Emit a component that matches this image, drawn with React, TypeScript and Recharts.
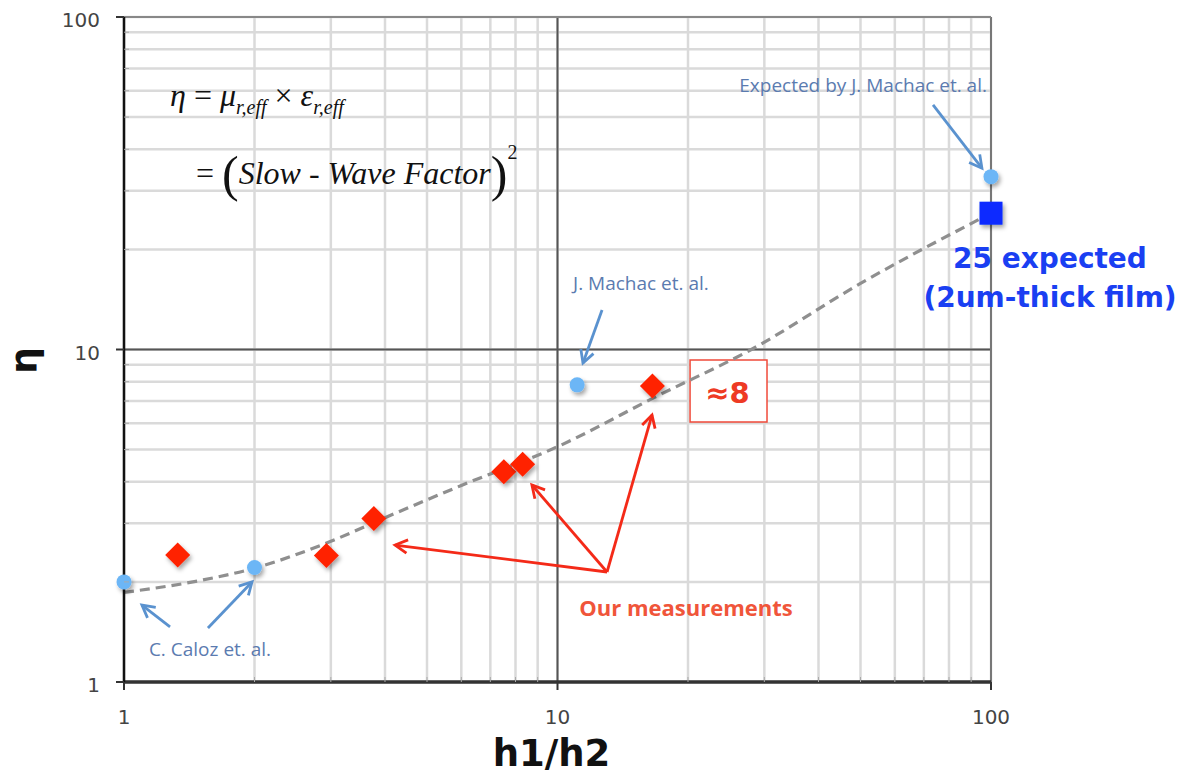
import React from "react";
import {
  CartesianGrid,
  ComposedChart,
  Line,
  ReferenceArea,
  ReferenceDot,
  ReferenceLine,
  Scatter,
  XAxis,
  YAxis,
} from "recharts";

// log ticks: every integer step per decade, only decades get labels
const TICKS = [1, 2, 3, 4, 5, 6, 7, 8, 9, 10, 20, 30, 40, 50, 60, 70, 80, 90, 100];
const MAJOR = [1, 10, 100];

// C. Caloz et. al.
const calozX = [1, 2];
const calozY = [2.0, 2.21];
// J. Machac et. al.
const machacX = [11.1];
const machacY = [7.83];
// expected by J. Machac et. al.
const expectedX = [100];
const expectedY = [33.1];
// our measurements
const oursX = [1.33, 2.93, 3.77, 7.52, 8.31, 16.56];
const oursY = [2.41, 2.4, 3.1, 4.29, 4.52, 7.77];
// 25 expected (2um-thick film)
const targetX = [100];
const targetY = [25.7];
// dashed trend
const trendX = [1, 1.5, 2, 3, 4, 6, 10, 17, 28, 50, 100];
const trendY = [1.86, 2.02, 2.2, 2.65, 3.12, 3.9, 5.1, 7.25, 10, 15.8, 25.7];

// annotation arrows in data coords: [xFrom, yFrom, xTo, yTo]
const blueArrows = [
  [73.5, 54.4, 95.3, 35.1],
  [12.67, 13.15, 11.45, 9.11],
  [1.277, 1.464, 1.1, 1.704],
  [1.562, 1.454, 1.974, 2.0],
];
const redArrows = [
  [13.01, 2.142, 4.22, 2.582],
  [13.01, 2.142, 8.73, 3.913],
  [13.01, 2.142, 16.52, 6.353],
];

const zip = (xs: number[], ys: number[]) => xs.map((x, i) => ({ x, y: ys[i] }));

const calozData = zip(calozX, calozY);
const machacData = zip(machacX, machacY);
const expectedData = zip(expectedX, expectedY);
const oursData = zip(oursX, oursY);
const targetData = zip(targetX, targetY);
const trendData = zip(trendX, trendY);

const SANS = "'Open Sans', sans-serif";
const DEJAVU = "'DejaVu Sans', Verdana, sans-serif";
const NOTE_BLUE = "#5b7bb0";
const ARROW_BLUE = "#5a92cf";
const RED = "#f42a18";

const circleShape = (p: any) => (
  <circle cx={p.cx} cy={p.cy} r={7.5} fill="#6cb6f6" filter="url(#shadow)" />
);
const diamondShape = (p: any) => {
  const s = 12.5;
  return (
    <polygon
      points={`${p.cx},${p.cy - s} ${p.cx + s},${p.cy} ${p.cx},${p.cy + s} ${p.cx - s},${p.cy}`}
      fill="#ff2200"
      filter="url(#shadow)"
    />
  );
};
const squareShape = (p: any) => (
  <rect x={p.cx - 11.5} y={p.cy - 11.5} width={23} height={23} fill="#0a2cff" filter="url(#shadow)" />
);

const arrowShape = (color: string) => (p: any) => {
  const { x1, y1, x2, y2 } = p;
  const a = Math.atan2(y2 - y1, x2 - x1);
  const L = 14;
  const w = 0.5;
  const h1 = `${x2 - L * Math.cos(a - w)},${y2 - L * Math.sin(a - w)}`;
  const h2 = `${x2 - L * Math.cos(a + w)},${y2 - L * Math.sin(a + w)}`;
  return (
    <g>
      <line x1={x1} y1={y1} x2={x2} y2={y2} stroke={color} strokeWidth={2.8} />
      <polyline
        points={`${h1} ${x2},${y2} ${h2}`}
        fill="none"
        stroke={color}
        strokeWidth={2.8}
        strokeLinejoin="miter"
      />
    </g>
  );
};

const note =
  (text: string, color: string, size: number, weight: number | string, family: string, dx = 0, dy = 0) =>
  (p: any) => (
    <text
      x={p.cx + dx}
      y={p.cy + dy}
      textAnchor="middle"
      fill={color}
      fontSize={size}
      fontWeight={weight}
      fontFamily={family}
    >
      {text}
    </text>
  );

const XTick = (p: any) => {
  const { x, y, payload } = p;
  const major = MAJOR.includes(payload.value);
  return (
    <g>
      {major ? (
        <line x1={x} x2={x} y1={y} y2={y + 8} stroke="#333" strokeWidth={2} />
      ) : (
        <line x1={x} x2={x} y1={y} y2={y - 5} stroke="#aaa" strokeWidth={1} />
      )}
      {major && (
        <text x={x} y={y + 42} textAnchor="middle" fill="#444" fontSize={20} fontFamily={DEJAVU}>
          {payload.value}
        </text>
      )}
    </g>
  );
};

const YTick = (p: any) => {
  const { x, y, payload } = p;
  const major = MAJOR.includes(payload.value);
  return (
    <g>
      {major ? (
        <line x1={x - 8} x2={x} y1={y} y2={y} stroke="#333" strokeWidth={2} />
      ) : (
        <line x1={x} x2={x + 5} y1={y} y2={y} stroke="#aaa" strokeWidth={1} />
      )}
      {major && (
        <text x={x - 24} y={y + 10} textAnchor="end" fill="#444" fontSize={20} fontFamily={DEJAVU}>
          {payload.value}
        </text>
      )}
    </g>
  );
};

export default function App() {
  return (
    <div style={{ position: "absolute", left: 0, top: 0, width: 1189, height: 776, background: "#fff" }}>
      <svg width={0} height={0} style={{ position: "absolute" }}>
        <defs>
          <filter id="shadow" x="-50%" y="-50%" width="200%" height="200%">
            <feDropShadow dx={2} dy={3} stdDeviation={2} floodColor="#000" floodOpacity={0.35} />
          </filter>
        </defs>
      </svg>
      <ComposedChart width={1189} height={776} margin={{ top: 17, right: 198, bottom: 34, left: 0 }}>
        <CartesianGrid stroke="#dadada" strokeWidth={2.5} />
        <XAxis
          dataKey="x"
          type="number"
          scale="log"
          domain={[1, 100]}
          ticks={TICKS}
          interval={0}
          height={60}
          tickSize={0}
          tickMargin={0}
          tick={<XTick />}
          axisLine={{ stroke: "#333", strokeWidth: 3.5 }}
          label={(p: any) => (
            <text
              x={p.viewBox.x + p.viewBox.width / 2 - 6}
              y={766}
              textAnchor="middle"
              fontSize={37}
              fontWeight="bold"
              fontFamily={DEJAVU}
              fill="#111"
            >
              h1/h2
            </text>
          )}
        />
        <YAxis
          dataKey="y"
          type="number"
          scale="log"
          domain={[1, 100]}
          ticks={TICKS}
          interval={0}
          width={124}
          tickSize={0}
          tickMargin={0}
          tick={<YTick />}
          axisLine={{ stroke: "#111", strokeWidth: 2.5 }}
          label={(p: any) => {
            const cx = p.viewBox.x + 36;
            const cy = p.viewBox.y + p.viewBox.height / 2 + 11;
            return (
              <text
                x={cx}
                y={cy}
                textAnchor="middle"
                transform={`rotate(-90, ${cx}, ${cy})`}
                fontSize={38}
                fontWeight="bold"
                fontFamily={DEJAVU}
                fill="#111"
              >
                η
              </text>
            );
          }}
        />

        <ReferenceLine x={10} stroke="#555" strokeWidth={2} />
        <ReferenceLine y={10} stroke="#555" strokeWidth={2} />
        <ReferenceLine x={100} stroke="#777" strokeWidth={2} />
        <ReferenceLine y={100} stroke="#888" strokeWidth={2} />

        <Line
          data={trendData}
          dataKey="y"
          type="monotone"
          stroke="#8f8f8f"
          strokeWidth={3.2}
          strokeDasharray="10 6"
          dot={false}
          activeDot={false}
          isAnimationActive={false}
        />
        <Scatter data={calozData} shape={circleShape} isAnimationActive={false} />
        <Scatter data={machacData} shape={circleShape} isAnimationActive={false} />
        <Scatter data={expectedData} shape={circleShape} isAnimationActive={false} />
        <Scatter data={oursData} shape={diamondShape} isAnimationActive={false} />
        <Scatter data={targetData} shape={squareShape} isAnimationActive={false} />

        {blueArrows.map((a, i) => (
          <ReferenceLine
            key={`b${i}`}
            segment={[{ x: a[0], y: a[1] }, { x: a[2], y: a[3] }]}
            ifOverflow="visible"
            shape={arrowShape(ARROW_BLUE)}
          />
        ))}
        {redArrows.map((a, i) => (
          <ReferenceLine
            key={`r${i}`}
            segment={[{ x: a[0], y: a[1] }, { x: a[2], y: a[3] }]}
            ifOverflow="visible"
            shape={arrowShape(RED)}
          />
        ))}

        <ReferenceArea
          x1={20.22}
          x2={30.43}
          y1={6.05}
          y2={9.3}
          fill="#fff"
          fillOpacity={1}
          stroke="#f04a3a"
          strokeWidth={1.5}
          ifOverflow="visible"
        />
        <ReferenceDot x={24.67} y={6.9} r={0} ifOverflow="visible" shape={note("≈8", "#ee3a24", 29, "bold", DEJAVU)} />

        <ReferenceDot x={50.7} y={59.5} r={0} ifOverflow="visible" shape={note("Expected by J. Machac et. al.", NOTE_BLUE, 19, 400, SANS)} />
        <ReferenceDot x={15.58} y={15.1} r={0} ifOverflow="visible" shape={note("J. Machac et. al.", NOTE_BLUE, 19, 400, SANS)} />
        <ReferenceDot x={1.579} y={1.197} r={0} ifOverflow="visible" shape={note("C. Caloz et. al.", NOTE_BLUE, 19, 400, SANS)} />
        <ReferenceDot x={19.79} y={1.579} r={0} ifOverflow="visible" shape={note("Our measurements", "#f0553a", 22, "bold", SANS)} />
        <ReferenceDot x={100} y={25.7} r={0} ifOverflow="visible" shape={note("25 expected", "#1a3ff2", 28, "bold", DEJAVU, 59, 55)} />
        <ReferenceDot x={100} y={25.7} r={0} ifOverflow="visible" shape={note("(2um-thick film)", "#1a3ff2", 28, "bold", DEJAVU, 59, 94)} />
      </ComposedChart>

      <svg
        width={1189}
        height={776}
        style={{ position: "absolute", left: 0, top: 0, pointerEvents: "none" }}
      >
        <g fontFamily="'Liberation Serif', 'Times New Roman', serif" fill="#111">
          <text x={170} y={106} fontSize={32} fontStyle="italic">
            η<tspan fontStyle="normal"> = </tspan>μ
            <tspan fontSize={20} dy={8}>r,eff</tspan>
            <tspan fontStyle="normal" dy={-8}> × </tspan>ε
            <tspan fontSize={20} dy={8}>r,eff</tspan>
          </text>
          <text x={196} y={184} fontSize={32} fontStyle="italic">
            <tspan fontStyle="normal">= </tspan>
            <tspan fontStyle="normal" fontSize={50} dy={7}>(</tspan>
            <tspan dy={-7}>Slow - Wave Factor</tspan>
            <tspan fontStyle="normal" fontSize={50} dy={7}>)</tspan>
            <tspan fontStyle="normal" fontSize={20} dy={-32}>2</tspan>
          </text>
        </g>
      </svg>
    </div>
  );
}
